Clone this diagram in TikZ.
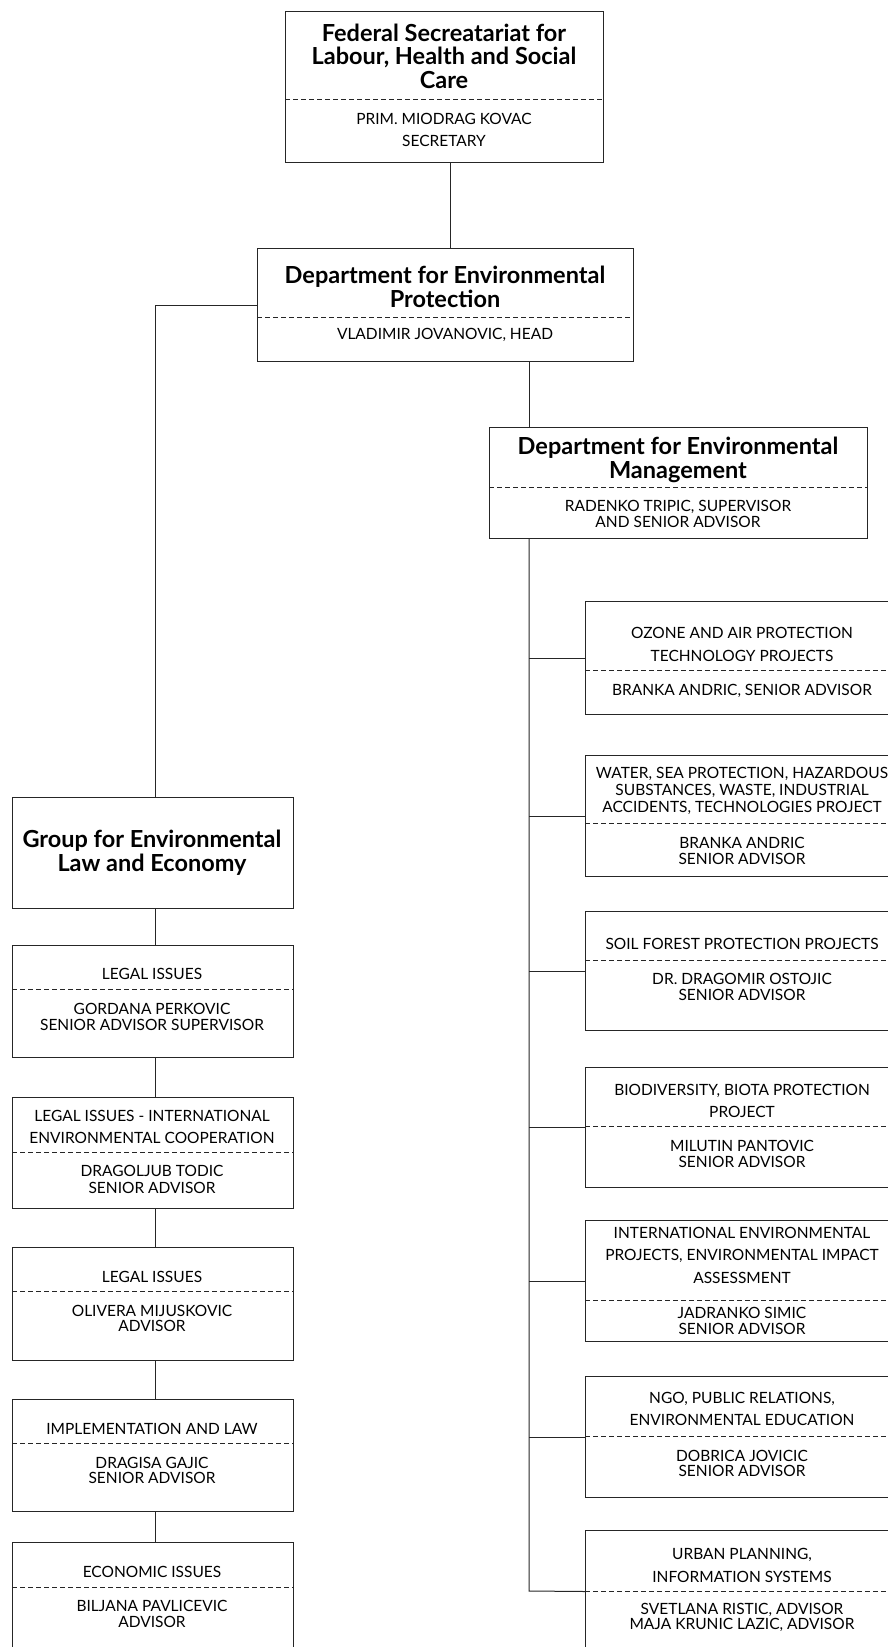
\documentclass[tikz,border=0pt]{standalone}
\usepackage{fontspec}
\setmainfont{Lato}
\usetikzlibrary{positioning}

\begin{document}
\begin{tikzpicture}[x=1pt,y=-1pt,line width=1pt]

  \tikzstyle{unit}=[rectangle,draw=black!85,anchor=north west,inner sep=0pt]
  \tikzstyle{head}=[anchor=base,align=center,inner sep=0pt,font=\fontsize{23.5}{23.5}\selectfont\bfseries]
  \tikzstyle{info}=[anchor=base,align=center,inner sep=0pt,font=\fontsize{15.5}{15.5}\selectfont]
  \tikzstyle{infowide}=[info,font=\fontsize{15.5}{22.5}\selectfont]
  \tikzstyle{split}=[draw=black!85,dash pattern=on 5pt off 3pt]
  \tikzstyle{link}=[draw=black!85]

  \useasboundingbox (0,0) rectangle (888,1647);

  % top of the tree (text nodes sit on the baseline of their last line)
  \node [unit,minimum width=318,minimum height=151] (fs)   at (285,11)  {};
  \node [unit,minimum width=376,minimum height=113] (dep)  at (257,248) {};
  \node [unit,minimum width=378,minimum height=111] (mgmt) at (489,427) {};
  \node [unit,minimum width=281,minimum height=111] (grp)  at (12,797)  {};

  \node [head]     (fs-t)   at (444,88)    {Federal Secreatariat for\\Labour, Health and Social\\Care};
  \node [infowide] (fs-b)   at (444,146.5) {PRIM. MIODRAG KOVAC\\SECRETARY};
  \node [head]     (dep-t)  at (445,307)   {Department for Environmental\\Protection};
  \node [info]     (dep-b)  at (445,339)   {VLADIMIR JOVANOVIC, HEAD};
  \node [head]     (mgmt-t) at (678,478)   {Department for Environmental\\Management};
  \node [info]     (mgmt-b) at (678,527)   {RADENKO TRIPIC, SUPERVISOR\\AND SENIOR ADVISOR};
  \node [head]     (grp-t)  at (152,871)   {Group for Environmental\\Law and Economy};

  \draw [split] (285,99)  -- (603,99);
  \draw [split] (257,317) -- (633,317);
  \draw [split] (489,487) -- (867,487);

  % right column
  \node [unit,minimum width=314,minimum height=113] (r1) at (585,601)  {};
  \node [unit,minimum width=314,minimum height=121] (r2) at (585,755)  {};
  \node [unit,minimum width=314,minimum height=119] (r3) at (585,911)  {};
  \node [unit,minimum width=314,minimum height=120] (r4) at (585,1067) {};
  \node [unit,minimum width=314,minimum height=121] (r5) at (585,1220) {};
  \node [unit,minimum width=314,minimum height=121] (r6) at (585,1376) {};
  \node [unit,minimum width=314,minimum height=122] (r7) at (585,1530) {};

  \node [infowide] (r1-t) at (742,661)    {OZONE AND AIR PROTECTION\\TECHNOLOGY PROJECTS};
  \node [info]     (r1-b) at (742,695)    {BRANKA ANDRIC, SENIOR ADVISOR};
  \node [info,font=\fontsize{15.5}{17}\selectfont] (r2-t) at (742,812) {WATER, SEA PROTECTION, HAZARDOUS\\SUBSTANCES, WASTE, INDUSTRIAL\\ACCIDENTS, TECHNOLOGIES PROJECT};
  \node [info]     (r2-b) at (742,864)    {BRANKA ANDRIC\\SENIOR ADVISOR};
  \node [info]     (r3-t) at (742,949)    {SOIL FOREST PROTECTION PROJECTS};
  \node [info]     (r3-b) at (742,1000)   {DR. DRAGOMIR OSTOJIC\\SENIOR ADVISOR};
  \node [infowide] (r4-t) at (742,1117.5) {BIODIVERSITY, BIOTA PROTECTION\\PROJECT};
  \node [info]     (r4-b) at (742,1167)   {MILUTIN PANTOVIC\\SENIOR ADVISOR};
  \node [infowide] (r5-t) at (742,1283)   {INTERNATIONAL ENVIRONMENTAL\\PROJECTS, ENVIRONMENTAL IMPACT\\ASSESSMENT};
  \node [info]     (r5-b) at (742,1334)   {JADRANKO SIMIC\\SENIOR ADVISOR};
  \node [infowide] (r6-t) at (742,1425.5) {NGO, PUBLIC RELATIONS,\\ENVIRONMENTAL EDUCATION};
  \node [info]     (r6-b) at (742,1476.5) {DOBRICA JOVICIC\\SENIOR ADVISOR};
  \node [infowide] (r7-t) at (742,1582)   {URBAN PLANNING,\\INFORMATION SYSTEMS};
  \node [info]     (r7-b) at (742,1629.5) {SVETLANA RISTIC, ADVISOR\\MAJA KRUNIC LAZIC, ADVISOR};

  \draw [split] (585,670)  -- (899,670);
  \draw [split] (585,823)  -- (899,823);
  \draw [split] (585,960)  -- (899,960);
  \draw [split] (585,1126) -- (899,1126);
  \draw [split] (585,1300) -- (899,1300);
  \draw [split] (585,1436) -- (899,1436);
  \draw [split] (585,1591) -- (899,1591);

  % left column
  \node [unit,minimum width=281,minimum height=112] (l1) at (12,945)  {};
  \node [unit,minimum width=281,minimum height=111] (l2) at (12,1097) {};
  \node [unit,minimum width=281,minimum height=113] (l3) at (12,1247) {};
  \node [unit,minimum width=281,minimum height=112] (l4) at (12,1399) {};
  \node [unit,minimum width=281,minimum height=120] (l5) at (12,1542) {};

  \node [info]     (l1-t) at (152,979)    {LEGAL ISSUES};
  \node [info]     (l1-b) at (152,1030)   {GORDANA PERKOVIC\\SENIOR ADVISOR SUPERVISOR};
  \node [infowide] (l2-t) at (152,1143.5) {LEGAL ISSUES - INTERNATIONAL\\ENVIRONMENTAL COOPERATION};
  \node [info,font=\fontsize{15.5}{17}\selectfont] (l2-b) at (152,1193.5) {DRAGOLJUB TODIC\\SENIOR ADVISOR};
  \node [info]     (l3-t) at (152,1282)   {LEGAL ISSUES};
  \node [info]     (l3-b) at (152,1331.5) {OLIVERA MIJUSKOVIC\\ADVISOR};
  \node [info]     (l4-t) at (152,1434)   {IMPLEMENTATION AND LAW};
  \node [info]     (l4-b) at (152,1483.5) {DRAGISA GAJIC\\SENIOR ADVISOR};
  \node [info]     (l5-t) at (152,1577)   {ECONOMIC ISSUES};
  \node [info]     (l5-b) at (152,1627)   {BILJANA PAVLICEVIC\\ADVISOR};

  \draw [split] (12,989)  -- (293,989);
  \draw [split] (12,1152) -- (293,1152);
  \draw [split] (12,1291) -- (293,1291);
  \draw [split] (12,1443) -- (293,1443);
  \draw [split] (12,1587) -- (293,1587);

  % connectors
  \coordinate (trunk) at (529,1591);
  \draw [link] ([xshift=6pt]fs.south) -- ([xshift=6pt]fs.south |- dep.north);
  \draw [link] (dep.south -| trunk) -- (mgmt.north -| trunk);
  \draw [link] (mgmt.south -| trunk) -- (trunk) -- (r7.west);
  \foreach \r in {r1,r2,r3,r4,r5,r6}
    \draw [link] (\r.west -| trunk) -- (\r.west);
  \draw [link] (dep.west) -- (dep.west -| 155,0) -- ([xshift=2pt]grp.north);
  \draw [link] ([xshift=2pt]grp.south) -- ([xshift=2pt]l1.north);
  \draw [link] ([xshift=2pt]l1.south) -- ([xshift=2pt]l2.north);
  \draw [link] ([xshift=2pt]l2.south) -- ([xshift=2pt]l3.north);
  \draw [link] ([xshift=2pt]l3.south) -- ([xshift=2pt]l4.north);
  \draw [link] ([xshift=2pt]l4.south) -- ([xshift=2pt]l5.north);

\end{tikzpicture}
\end{document}
